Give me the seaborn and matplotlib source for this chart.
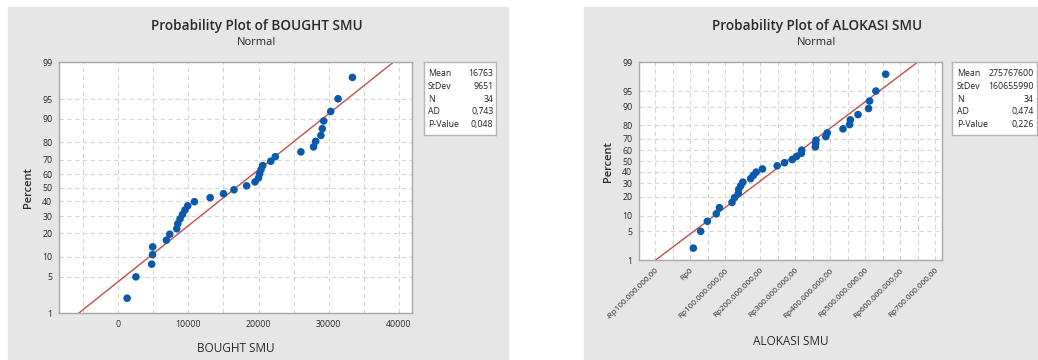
import statistics
import pandas as pd
import seaborn as sns
import matplotlib
from matplotlib import pyplot as plt
from matplotlib.patches import Rectangle
from matplotlib.ticker import MultipleLocator

# values (sorted)
bought = [1250, 2500, 4750, 4900, 4870, 6850, 7330, 8330, 8480, 8800,
          9150, 9500, 9900, 10850, 13100, 15000, 16500, 18300, 19500, 20000,
          20150, 20350, 20600, 21750, 22400, 26050, 27850, 28150, 28900, 29100,
          29300, 30300, 31350, 33400]
alokasi = [9.5e6, 30.5e6, 49.5e6, 75e6, 84e6, 120e6, 127e6, 138e6, 139e6, 145e6,
           151e6, 173e6, 181e6, 189e6, 207e6, 249e6, 270e6, 292e6, 304e6, 318e6,
           319e6, 358e6, 359e6, 360e6, 388e6, 392e6, 437e6, 456e6, 458e6, 480e6,
           510e6, 513e6, 531e6, 559e6]

pct_ticks = [1, 5, 10, 20, 30, 40, 50, 60, 70, 80, 90, 95, 99]

stat_names = ["Mean", "StDev", "N", "AD", "P-Value"]
bought_stats = ["16763", "9651", "34", "0,743", "0,048"]
alokasi_stats = ["275767600", "160655990", "34", "0,474", "0,226"]
bought_mean, bought_sd = 16763, 9651
alokasi_mean, alokasi_sd = 275767600, 160655990

bought_xticks = [0, 10000, 20000, 30000, 40000]
alokasi_xticks = [-1e8, 0, 1e8, 2e8, 3e8, 4e8, 5e8, 6e8, 7e8]
alokasi_xlabels = ["-Rp100.000.000,00", "Rp0", "Rp100.000.000,00", "Rp200.000.000,00",
                   "Rp300.000.000,00", "Rp400.000.000,00", "Rp500.000.000,00",
                   "Rp600.000.000,00", "Rp700.000.000,00"]

sns.set_style("white")
plt.rcParams['font.family'] = ['Open Sans', 'DejaVu Sans']

W, H = 1038, 360
fig = plt.figure(figsize=(W / 100, H / 100), dpi=100)
nd = statistics.NormalDist()
zlo, zhi = nd.inv_cdf(0.01), nd.inv_cdf(0.99)
txt = "#2a2a2a"


def fx(px):
    return px / W


def fy(py):
    return 1 - py / H


# grey panels behind each chart
fig.patches.append(Rectangle((fx(8), 0), fx(500), 353 / H, transform=fig.transFigure,
                             color="#e6e6e6", zorder=-5))
fig.patches.append(Rectangle((fx(584), 0), fx(460), 353 / H, transform=fig.transFigure,
                             color="#e6e6e6", zorder=-5))


def prob_panel(rect, values, mean, sd, xlim, xminor):
    ax = fig.add_axes(rect)
    n = len(values)
    df = pd.DataFrame({"x": sorted(values)})
    df["z"] = [nd.inv_cdf((i + 1 - 0.3) / (n + 0.4)) for i in range(n)]
    fit = pd.DataFrame({"z": [zlo, zhi]})
    fit["x"] = mean + sd * fit["z"]
    sns.lineplot(data=fit, x="x", y="z", ax=ax, color="#c0504d", lw=1, sort=False, zorder=2)
    sns.scatterplot(data=df, x="x", y="z", ax=ax, color="#0a5aab", s=30,
                    edgecolor="none", zorder=3)
    ax.set_ylim(zlo, zhi)
    ax.set_xlim(*xlim)
    ax.set_yticks([nd.inv_cdf(p / 100) for p in pct_ticks])
    ax.set_yticklabels([str(p) for p in pct_ticks])
    ax.xaxis.set_minor_locator(MultipleLocator(xminor))
    ax.grid(True, which="both", color="#d6d6d6", ls=(0, (4, 3)), lw=0.8)
    ax.tick_params(axis="both", which="major", labelsize=6.3, colors="#8a8a8a",
                   labelcolor=txt, length=3, width=0.8, pad=2)
    ax.tick_params(which="minor", length=0)
    for s in ax.spines.values():
        s.set_color("#a8a8a8")
        s.set_linewidth(1)
    ax.set_ylabel("Percent", fontsize=8, color=txt, labelpad=6, fontweight="semibold")
    ax.set_facecolor("white")
    return ax


def stat_box(x0, x1, y0, y1, vals):
    bx = fig.add_axes([fx(x0), fy(y1), fx(x1 - x0), (y1 - y0) / H])
    bx.set_xticks([])
    bx.set_yticks([])
    for s in bx.spines.values():
        s.set_color("#b5b5b5")
        s.set_linewidth(1)
    for k, (name, v) in enumerate(zip(stat_names, vals)):
        yy = 1 - (0.16 + k * 0.175)
        bx.text(0.06, yy, name, fontsize=6.3, va="center", ha="left", color="#222222",
                transform=bx.transAxes)
        bx.text(0.96, yy, v, fontsize=6.3, va="center", ha="right", color="#222222",
                transform=bx.transAxes)


# left chart
ax1 = prob_panel([fx(59.3), fy(313.3), fx(352.7), 251 / H], bought,
                 bought_mean, bought_sd, (-8430, 41900), 5000)
ax1.set_xticks(bought_xticks)
ax1.set_xticklabels([str(v) for v in bought_xticks])
ax1.set_xlabel("BOUGHT SMU", fontsize=8.5, color=txt, labelpad=9)
fig.text(fx(257), fy(26), "Probability Plot of BOUGHT SMU", fontsize=9.8,
         fontweight="semibold", ha="center", va="center", color=txt)
fig.text(fx(257), fy(42.5), "Normal", fontsize=8, ha="center", va="center", color=txt)
stat_box(423.7, 496.3, 62.3, 134.7, bought_stats)

# right chart
ax2 = prob_panel([fx(639.3), fy(260), fx(302.4), 197.7 / H], alokasi,
                 alokasi_mean, alokasi_sd, (-144.9e6, 719e6), 50e6)
ax2.set_xticks(alokasi_xticks)
ax2.set_xticklabels(alokasi_xlabels, rotation=45, ha="right", rotation_mode="anchor",
                    fontsize=5.9)
ax2.set_xlabel("ALOKASI SMU", fontsize=8.5, color=txt, labelpad=10)
fig.text(fx(816.7), fy(26), "Probability Plot of ALOKASI SMU", fontsize=9.8,
         fontweight="semibold", ha="center", va="center", color=txt)
fig.text(fx(816.7), fy(42.5), "Normal", fontsize=8, ha="center", va="center", color=txt)
stat_box(951.7, 1037, 62.3, 134.7, alokasi_stats)

fig.savefig("out.png", dpi=100)
